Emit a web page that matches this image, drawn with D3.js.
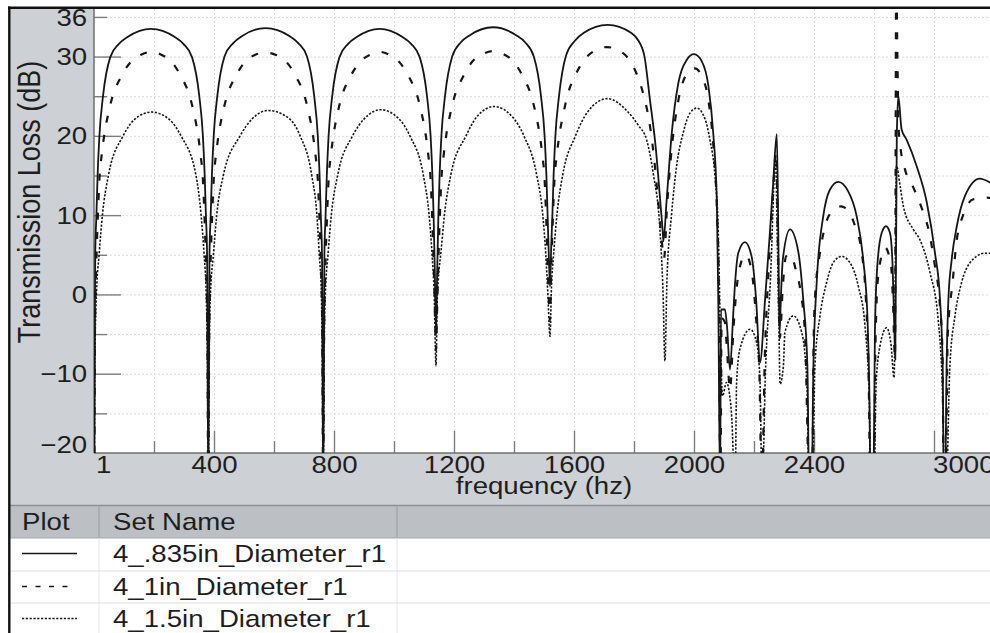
<!DOCTYPE html>
<html>
<head>
<meta charset="utf-8">
<script src="https://cdn.jsdelivr.net/npm/d3@7/dist/d3.min.js"></script>
<style>
body { margin:0; background:#fff; }
svg text { font-family:"Liberation Sans", Arial, Helvetica, sans-serif; fill:#1e1e1e; }
</style>
</head>
<body>
<div id="chart-area"></div>
<script>
// Data: [frequency (hz), transmission loss (dB)]
var setNames = ["4_.835in_Diameter_r1", "4_1in_Diameter_r1", "4_1.5in_Diameter_r1"];
var yLabelTicks = [-20, -10, 0, 10, 20, 30, 36];
var xLabelTicks = [1, 400, 800, 1200, 1600, 2000, 2400, 3000];
var yMajorTicks = [-10, 0, 10, 20, 30];
var yMinorTicks = [-15, -5, 5, 15, 25, 35];
var xMajorTicks = [400, 800, 1200, 1600, 2000, 2400, 2800];
var xMinorTicks = [200, 600, 1000, 1400, 1800, 2200, 2600];
var yGrid = [-15, -10, -5, 0, 5, 10, 15, 20, 25, 30, 35];
var xGrid = [200, 400, 600, 800, 1000, 1200, 1400, 1600, 1800, 2000, 2200, 2400, 2600, 2800];

var tl835 = [[1,-25],[4,5],[8,10],[12,15],[18,20],[30,25],[54,29.9],[83,31.6],[113,32.5],[190,33.5],[268,32.5],[298,31.6],[327,29.9],[351,25],[363,20],[369,15],[373,10],[377,5],[381,-25],
  [385,5],[389,10],[393,15],[399,20],[411,25],[435,30],[464,31.7],[494,32.6],[572,33.6],[651,32.6],[681,31.7],[710,30],[734,25],[746,20],[752,15],[756,10],[760,5],[764,-25],
  [768,5],[772,10],[776,15],[782,20],[794,25],[818,29.9],[847,31.6],[877,32.5],[952,33.5],[1027,32.5],[1057,31.6],[1086,29.9],[1110,25],[1122,20],[1128,15],[1132,10],[1136,3],[1140,-5],
  [1144,3],[1148,10],[1152,15],[1158,20],[1170,25],[1194,30],[1223,31.8],[1253,32.7],[1330,33.7],[1407,32.7],[1437,31.8],[1466,30],[1490,25],[1502,20],[1508,15],[1512,10],[1516,5],[1520,1],
  [1524,6],[1528,10],[1532,15],[1538,20],[1550,25],[1574,30.2],[1603,32],[1633,33],[1712,34],[1790,33],[1815,32],[1835,30],[1853,24.6],[1873,18.3],[1887,12],[1896,7.8],[1898,6.7],
  [1909,12],[1926,20.4],[1948,26.7],[1976,29.6],[2000,30.3],[2026,29.4],[2048,26.3],[2064,20.4],[2076,12],[2081,-0.6],[2087,-25],
  [2090,-1.9],[2103,-1.9],[2110,-4],[2120,-9.5],[2130,-3],[2137,1.5],[2148,5.3],[2170,6.6],[2192,4.8],[2207,-0.6],[2220,-8.6],[2237,-0.6],[2253,7.8],[2264,14.1],[2276,20.2],[2281,7.8],[2285,-5],[2290,0],[2296,4.4],[2320,8.2],[2348,5.3],[2364,-0.6],[2378,-9],[2384,-25],
  [2392,-25],[2398,-9],[2409,1.5],[2431,9.9],[2453,13.2],[2481,14.2],[2514,13],[2542,9.9],[2564,4.4],[2578,-2.7],[2584,-11],[2589,-25],
  [2598,-25],[2603,-4.8],[2611,3.6],[2626,7.8],[2640,8.6],[2653,7.8],[2662,3.6],[2668,-4.8],[2671,-8.2],[2676,20],[2681,25],[2692,20.8],[2709,19.5],[2742,16.2],[2776,11.6],[2803,5.3],[2820,-0.6],[2829,-9],[2833,-25],
  [2837,-25],[2842,-9],[2848,-0.6],[2859,4.4],[2876,8.6],[2903,12.4],[2953,14.6],[2987,14.1],[3000,13.8]];

var tl1in = [[1,-25],[3,-5],[7,3],[12,9],[18,14.5],[26,17.7],[35,20.3],[47,22.7],[62,25],[88,27.3],[122,29.3],[155,30.2],[191,30.6],[226,30.2],[259,29.3],[293,27.3],[319,25],[334,22.7],[346,20.3],[355,17.7],[363,14.5],[369,9],[374,3],[378,-5],[381,-25],
  [384,-5],[388,3],[393,9],[399,14.5],[407,17.7],[416,20.3],[428,22.7],[443,25],[469,27.3],[503,29.3],[536,30.2],[570,30.5],[607,30.2],[642,29.3],[676,27.3],[702,25],[717,22.7],[729,20.3],[738,17.7],[746,14.5],[752,9],[757,3],[761,-5],[764,-25],
  [767,-5],[771,3],[776,9],[782,14.5],[790,17.7],[799,20.3],[811,22.7],[826,25],[852,27.3],[886,29.3],[919,30.2],[952,30.6],[985,30.2],[1018,29.3],[1052,27.3],[1078,25],[1093,22.7],[1105,20.3],[1114,17.7],[1122,14.5],[1128,9],[1133,3],[1137,-3],[1140,-7],
  [1143,-3],[1147,3],[1152,9],[1158,14.5],[1166,17.7],[1175,20.3],[1187,22.7],[1202,25],[1228,27.3],[1262,29.4],[1295,30.3],[1330,30.7],[1365,30.3],[1398,29.4],[1432,27.3],[1458,25],[1473,22.7],[1485,20.3],[1494,17.7],[1502,14.5],[1508,9],[1513,3],[1520,-3.2],
  [1524,3],[1529,9],[1535,14.5],[1543,17.7],[1552,20.3],[1564,22.7],[1579,25.2],[1605,27.7],[1639,29.8],[1672,30.8],[1710,31.2],[1748,30.8],[1780,29.8],[1810,27.7],[1833,25],[1850,22],[1866,17.5],[1880,12],[1892,7],[1900,4.5],
  [1910,11],[1926,18.5],[1948,24.5],[1976,27.8],[2003,28.5],[2026,27.5],[2048,24.5],[2064,19],[2076,11],[2083,0],[2088,-25],
  [2092,-3],[2103,-3.5],[2110,-7],[2120,-12],[2132,-4],[2150,3],[2172,5],[2192,3],[2207,-3],[2218,-10],[2226,-25],[2236,-8],[2250,4],[2262,12],[2274,18],[2280,6],[2286,-5.5],[2296,1],[2307,4.8],[2322,5],[2340,3],[2356,0.2],[2370,-5],[2385,-25],
  [2394,-25],[2398,-8],[2403,-0.6],[2420,5.3],[2437,8.6],[2460,10.5],[2490,11.1],[2515,10.5],[2537,8.6],[2559,5.3],[2573,-0.6],[2582,-10],[2588,-25],
  [2599,-25],[2605,-6],[2614,2.3],[2637,5.9],[2657,3.6],[2663,-0.6],[2670,-8],[2674,40],[2678,30],[2682,21],[2689,18.3],[2703,15.8],[2731,13.5],[2759,10.9],[2784,7.8],[2803,3.6],[2818,-0.6],[2828,-6.9],[2833,-25],
  [2838,-25],[2846,-5],[2862,1.5],[2876,6.9],[2896,9.9],[2931,12],[2976,12.2],[3000,12.1]];

var tl15in = [[1,-25],[3,-8],[8,0],[17,5],[28,10],[48,15],[97,20],[136,22.1],[192,23],[250,22.1],[290,20],[340,15],[357,10],[367,5],[374,0],[378,-8],[381,-25],
  [384,-8],[388,0],[398,5],[409,10],[431,15],[487,20],[526,22.1],[581,23.2],[653,22.1],[687,20],[726,15],[743,10],[751,5],[758,0],[761,-8],[764,-25],
  [767,-8],[771,0],[780,5],[791,10],[812,15],[862,20],[902,22.2],[956,23.3],[1015,22.2],[1053,20],[1098,15],[1117,10],[1127,5],[1134,0],[1140,-9],
  [1144,-1],[1148,2],[1157,5.5],[1168,10],[1189,15],[1240,20],[1278,22.5],[1334,23.7],[1392,22.5],[1433,20],[1476,15],[1496,10],[1506,5],[1513,0],[1520,-5.3],
  [1525,1],[1532,5],[1543,10],[1562,15],[1605,20],[1645,23],[1712,24.7],[1780,23],[1815,21.3],[1842,19.5],[1864,15.3],[1887,7.8],[1897,0],[1903,-8.4],
  [1910,2],[1925,10],[1942,16.2],[1964,20.4],[1987,22.9],[2009,23.5],[2037,22.1],[2053,19.5],[2070,14.9],[2081,7.8],[2088,-5],[2095,-12.8],[2108,-11.1],[2125,-15],[2137,-25],
  [2142,-11.1],[2153,-6.9],[2187,-4.4],[2209,-6.1],[2220,-11],[2227,-25],[2238,-10],[2255,2],[2272,17],[2278,6],[2283,-4],[2287,-11.3],[2298,-9],[2303,-4.8],[2331,-2.7],[2359,-4.8],[2376,-11],[2384,-25],
  [2395,-25],[2403,-9],[2420,-2.7],[2442,1.5],[2464,4],[2492,4.8],[2520,4],[2548,1],[2570,-4],[2584,-13],[2590,-25],
  [2600,-25],[2607,-11.3],[2620,-6.5],[2642,-4.2],[2656,-6.1],[2667,-10.5],[2675,16.2],[2687,13.7],[2698,11.1],[2731,8.2],[2753,6.9],[2787,2.7],[2814,-3.2],[2829,-13.2],[2835,-25],
  [2840,-25],[2853,-9],[2870,-2.7],[2892,1.5],[2920,4],[2970,5.2],[3000,5.2]];

var series = [
  { name: setNames[2], values: tl15in, dash: "2.2,1.6", width: 1.6 },
  { name: setNames[1], values: tl1in, dash: "7,12.5", width: 2.2 },
  { name: setNames[0], values: tl835, dash: null, width: 1.8 }
];

//Margins
var margin = { left:94, top:9 },
    width = 900,
    height = 444;
var stretch = "scale(1.15,1)";

//SVG Canvas
var svg = d3.select("#chart-area").append("svg")
    .attr("width", 990)
    .attr("height", 633);

//gray panel + outer frame
svg.append("rect").attr("x", 10).attr("y", 9).attr("width", 980).attr("height", 497)
    .attr("fill", "#cdd0d4");
svg.append("rect").attr("x", margin.left).attr("y", margin.top).attr("width", width).attr("height", height)
    .attr("fill", "#fff");

var g = svg.append("g")
    .attr("transform", "translate(" + margin.left + ", " + margin.top + ")");

//scales
var x = d3.scaleLinear().domain([0, 3000]).range([0, width]);
var y = d3.scaleLinear().domain([-20, 36]).range([height, 0]);

//grid
g.append("g").attr("class", "grid")
    .call(d3.axisLeft(y).tickValues(yGrid).tickSize(-width).tickFormat(""));
g.append("g").attr("class", "grid")
    .call(d3.axisBottom(x).tickValues(xGrid).tickSize(height).tickFormat(""));
g.selectAll(".grid .domain").remove();
g.selectAll(".grid line")
    .attr("stroke", "#dcdcdc")
    .attr("stroke-dasharray", "2,2");

//ticks, drawn into the plot
function innerTicks(axis, size) {
    var a = g.append("g").call(axis.tickSize(size).tickSizeOuter(0).tickFormat(""));
    a.select(".domain").remove();
    a.selectAll("line").attr("stroke", "#7d7d7d").attr("stroke-width", 1.4);
    return a;
}
innerTicks(d3.axisLeft(y).tickValues(yMajorTicks), -27);
innerTicks(d3.axisLeft(y).tickValues(yMinorTicks), -13);
innerTicks(d3.axisBottom(x).tickValues(xMajorTicks), -22).attr("transform", "translate(0," + height + ")");
innerTicks(d3.axisBottom(x).tickValues(xMinorTicks), -12).attr("transform", "translate(0," + height + ")");

//tick labels
var yAxis = g.append("g")
    .call(d3.axisLeft(y).tickValues(yLabelTicks).tickSize(0).tickPadding(6).tickFormat(d3.format("d")));
yAxis.select(".domain").remove();
yAxis.selectAll("text")
    .attr("font-size", "24px")
    .attr("fill", "#1e1e1e")
    .attr("transform", stretch)
    .attr("dy", function(d){ return d == 36 ? "16px" : (d == -20 ? "-1px" : "8px"); });

var xAxis = g.append("g")
    .attr("transform", "translate(0," + height + ")")
    .call(d3.axisBottom(x).tickValues(xLabelTicks).tickSize(0).tickPadding(3).tickFormat(d3.format("d")));
xAxis.select(".domain").remove();
xAxis.selectAll("text")
    .attr("font-size", "24px")
    .attr("fill", "#1e1e1e")
    .attr("transform", stretch)
    .attr("text-anchor", function(d){ return d == 1 ? "start" : (d == 3000 ? "end" : "middle"); })
    .attr("x", function(d){ return d == 1 ? 1 : 0; });

//plot border lines
g.append("line").attr("x1", 0).attr("x2", 0).attr("y1", 0).attr("y2", height)
    .attr("stroke", "#6f6f6f").attr("stroke-width", 1.5);
g.append("line").attr("x1", 0).attr("x2", width).attr("y1", height).attr("y2", height)
    .attr("stroke", "#6f6f6f").attr("stroke-width", 1.5);

//curves
svg.append("clipPath").attr("id", "plot-clip")
    .append("rect").attr("width", width).attr("height", height);

var line = d3.line()
    .x(function(d){ return x(d[0]); })
    .y(function(d){ return y(d[1]); })
    .curve(d3.curveMonotoneX);

g.append("g").attr("clip-path", "url(#plot-clip)")
    .selectAll("path")
    .data(series)
    .enter().append("path")
    .attr("fill", "none")
    .attr("stroke", "#161616")
    .attr("stroke-width", function(d){ return d.width; })
    .attr("stroke-dasharray", function(d){ return d.dash; })
    .attr("d", function(d){ return line(d.values); });

//Axis labels
svg.append("text")
    .attr("transform", "translate(544,494) " + stretch)
    .attr("font-size", "24px")
    .attr("text-anchor", "middle")
    .text("frequency (hz)");
svg.append("text")
    .attr("transform", "translate(40,202) " + stretch + " rotate(-90)")
    .attr("font-size", "27px")
    .attr("text-anchor", "middle")
    .text("Transmission Loss (dB)");

//legend table
var rowTop = [538, 571, 603];
svg.append("rect").attr("x", 10).attr("y", 506).attr("width", 980).attr("height", 32)
    .attr("fill", "#bcbfc4");
svg.append("line").attr("x1", 10).attr("x2", 990).attr("y1", 505.5).attr("y2", 505.5)
    .attr("stroke", "#8d9095").attr("stroke-width", 1.5);
svg.append("line").attr("x1", 10).attr("x2", 990).attr("y1", 538).attr("y2", 538)
    .attr("stroke", "#a4a7ab").attr("stroke-width", 1);
svg.selectAll(".rowline").data(rowTop.slice(1)).enter().append("line")
    .attr("x1", 10).attr("x2", 990)
    .attr("y1", function(d){ return d; }).attr("y2", function(d){ return d; })
    .attr("stroke", "#e2e2e2").attr("stroke-width", 1.2);
[99, 397].forEach(function(cx, i){
    svg.append("line").attr("x1", cx).attr("x2", cx).attr("y1", 506).attr("y2", 538)
        .attr("stroke", "#9a9da2");
    svg.append("line").attr("x1", cx).attr("x2", cx).attr("y1", 538).attr("y2", 633)
        .attr("stroke", "#e4e4e4");
});
svg.append("text").attr("transform", "translate(22,530) " + stretch)
    .attr("font-size", "24px").text("Plot");
svg.append("text").attr("transform", "translate(113,530) " + stretch)
    .attr("font-size", "24px").text("Set Name");

var rows = svg.selectAll(".legend-row")
    .data(series.slice().reverse())
    .enter().append("g")
    .attr("class", "legend-row")
    .attr("transform", function(d, i){ return "translate(0," + rowTop[i] + ")"; });
rows.append("line")
    .attr("x1", 22).attr("x2", function(d, i){ return i == 1 ? 69 : 77; })
    .attr("y1", 15.5).attr("y2", 15.5)
    .attr("stroke", "#161616")
    .attr("stroke-width", function(d, i){ return i == 1 ? 1.6 : 1.4; })
    .attr("stroke-dasharray", function(d, i){ return i == 1 ? "5,8.5" : d.dash; });
rows.append("text")
    .attr("transform", "translate(113,24) " + stretch)
    .attr("font-size", "24px")
    .text(function(d){ return d.name; });

//outer black frame
svg.append("line").attr("x1", 9.3).attr("x2", 9.3).attr("y1", 6.5).attr("y2", 633)
    .attr("stroke", "#111").attr("stroke-width", 2.4);
svg.append("line").attr("x1", 8).attr("x2", 990).attr("y1", 7.8).attr("y2", 7.8)
    .attr("stroke", "#111").attr("stroke-width", 2.4);
</script>
</body>
</html>
